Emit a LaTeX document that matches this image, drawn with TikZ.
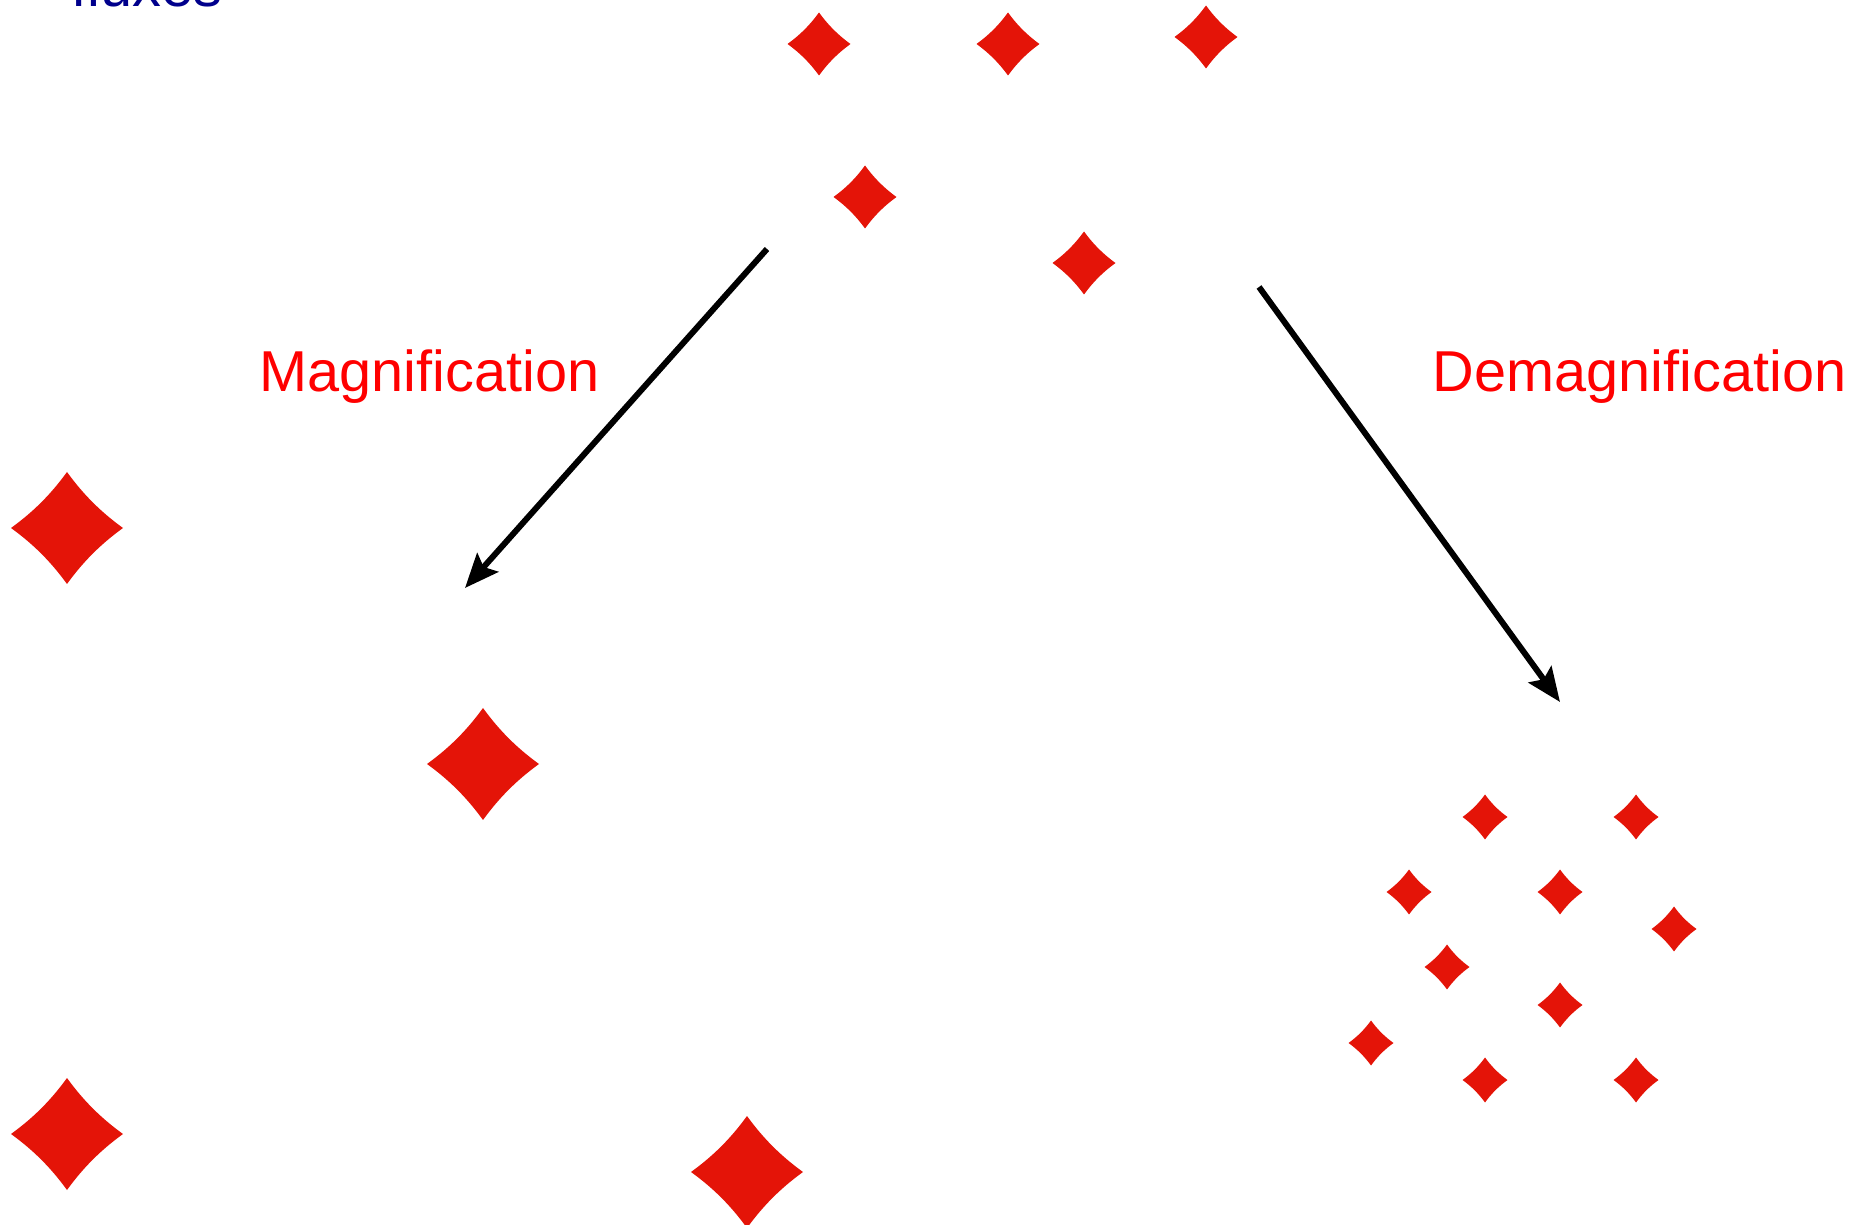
\documentclass[tikz,border=0pt]{standalone}
\usepackage{fontspec}
\setmainfont{Liberation Sans}
\usetikzlibrary{arrows.meta, positioning}
\definecolor{starred}{RGB}{228,20,8}
\definecolor{fluxblue}{RGB}{0,0,140}
\tikzset{%
  sparkle/.pic={%
    \fill [starred] (1,0) .. controls (0.6,0.29) and (0.29,0.6) .. (0,1)
    .. controls (-0.29,0.6) and (-0.6,0.29) .. (-1,0)
    .. controls (-0.6,-0.29) and (-0.29,-0.6) .. (0,-1)
    .. controls (0.29,-0.6) and (0.6,-0.29) .. cycle;
  },
}
\begin{document}
\begin{tikzpicture}
    [x=0.01cm, y=-0.01cm,
    label/.style={text=red, inner sep=0pt, anchor=base west,
    font=\fontsize{16.4pt}{19pt}\selectfont},
    caption/.style={text=fluxblue, inner sep=0pt, anchor=base west,
    font=\fontsize{16.4pt}{19pt}\selectfont},
    source/.style={scale=31.5},
    big/.style={scale=56},
    small/.style={scale=22.5},
    arrow/.style={line width=1.7pt, -{Stealth[length=3.4mm, width=2.8mm, inset=0.6mm]}}]
    \useasboundingbox (0,0) rectangle (1869,1225);
    \node [caption] (fluxes) at (71,7) {fluxes};
    \node [label] (magnification) at (259,392) {Magnification};
    \node [label] (demagnification) at (1432,392) {Demagnification};

    \pic [source] at (819,44) {sparkle};
    \pic [source] at (1008,44) {sparkle};
    \pic [source] at (1206,37) {sparkle};
    \pic [source] at (865,197) {sparkle};
    \pic [source] at (1084,263) {sparkle};

    \pic [big] at (67,528) {sparkle};
    \pic [big] at (483,764) {sparkle};
    \pic [big] at (67,1134) {sparkle};
    \pic [big] at (747,1172) {sparkle};

    \pic [small] at (1485,817) {sparkle};
    \pic [small] at (1636,817) {sparkle};
    \pic [small] at (1409,892) {sparkle};
    \pic [small] at (1560,892) {sparkle};
    \pic [small] at (1674,929) {sparkle};
    \pic [small] at (1447,967) {sparkle};
    \pic [small] at (1560,1005) {sparkle};
    \pic [small] at (1371,1043) {sparkle};
    \pic [small] at (1485,1080) {sparkle};
    \pic [small] at (1636,1080) {sparkle};

    \coordinate (mag_from) at (767,249);
    \coordinate (mag_to) at (465,588);
    \coordinate (demag_from) at (1259,287);
    \coordinate (demag_to) at (1560,702);
    \draw [arrow] (mag_from) -- (mag_to);
    \draw [arrow] (demag_from) -- (demag_to);
\end{tikzpicture}
\end{document}
